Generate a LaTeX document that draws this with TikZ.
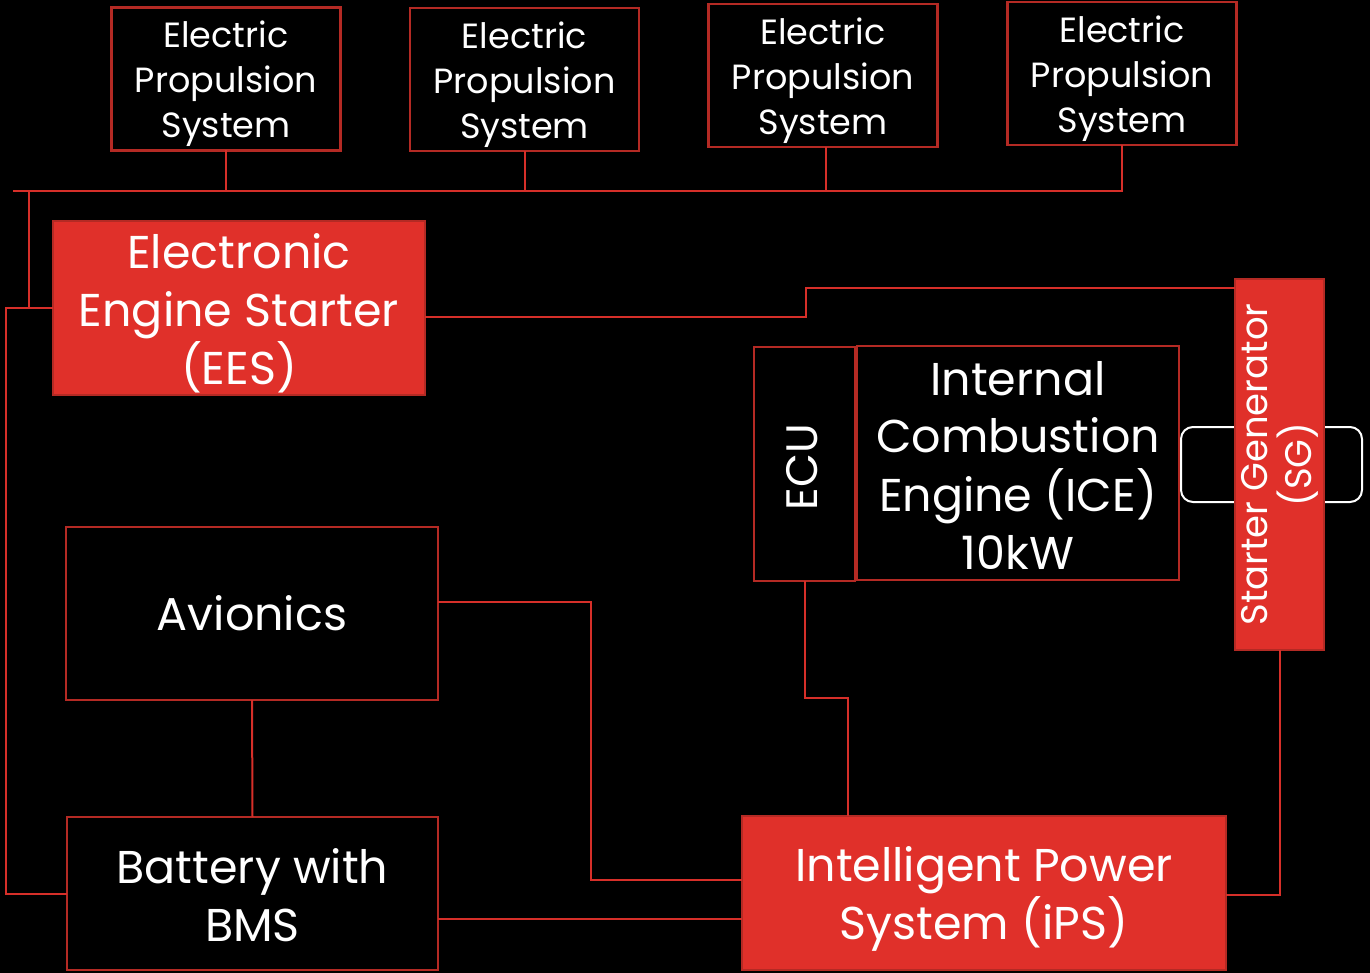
\documentclass[tikz,border=0pt]{standalone}
\usepackage{fontspec}
\setmainfont{Poppins}
\definecolor{boxred}{HTML}{E0302A}
\definecolor{edgered}{HTML}{B42A24}
\definecolor{linered}{HTML}{D62F29}
\begin{document}
\begin{tikzpicture}[x=1pt,y=-1pt,
  every node/.style={inner sep=0pt,outer sep=0pt,text=white,align=center},
  bbox/.style={draw=edgered,line width=2.5pt,fill=black},
  rbox/.style={draw=edgered,line width=2.5pt,fill=boxred},
  conn/.style={draw=linered,line width=2pt},
  eps/.style={bbox,minimum width=229pt,minimum height=143pt},
  epst/.style={font=\fontsize{35}{45}\selectfont},
  big/.style={font=\fontsize{46}{58}\selectfont}]
\fill[black] (0,0) rectangle (1370,973);
\useasboundingbox (0,0) rectangle (1370,973);

% white loop behind SG
\draw[white,line width=2pt,rounded corners=12pt] (1181,427) rectangle (1362,502);

\node[eps] (e1) at (226,79) {};
\node[eps] (e2) at (524.5,79.5) {};
\node[eps] (e3) at (823,75.5) {};
\node[eps] (e4) at (1122,73.5) {};
\node[epst] (e1t) at ([yshift=-5pt]e1.center) {Electric\\Propulsion\\System};
\node[epst] (e2t) at ([yshift=-5pt]e2.center) {Electric\\Propulsion\\System};
\node[epst] (e3t) at ([yshift=-5pt]e3.center) {Electric\\Propulsion\\System};
\node[epst] (e4t) at ([yshift=-5pt]e4.center) {Electric\\Propulsion\\System};

\node[rbox,minimum width=372pt,minimum height=174pt] (ees) at (239,308) {};
\node[big] (eest) at ([yshift=-5pt]ees.center) {Electronic\\Engine Starter\\(EES)};
\node[rbox,minimum width=89pt,minimum height=371pt] (sg) at (1279.5,464.5) {};
\node[rotate=90,font=\fontsize{37}{44}\selectfont] (sgt) at (sg.center) {Starter Generator\\(SG)};

\node[bbox,minimum width=101pt,minimum height=234pt] (ecu) at (804.5,464) {};
\node[rotate=90,font=\fontsize{44}{50}\selectfont] (ecut) at ([xshift=-2pt,yshift=-3pt]ecu.center) {ECU};
\node[bbox,minimum width=322pt,minimum height=234pt] (ice) at (1018,463) {};
\node[big] (icet) at ([yshift=-2pt]ice.center) {Internal\\Combustion\\Engine (ICE)\\10kW};

\node[bbox,big,minimum width=372pt,minimum height=173pt] (av) at (252,613.5) {Avionics};
\node[bbox,minimum width=371pt,minimum height=153pt] (bat) at (252.5,893.5) {};
\node[big] (batt) at ([yshift=-2pt]bat.center) {Battery with\\BMS};
\node[rbox,minimum width=484pt,minimum height=154pt] (ips) at (984,893) {};
\node[big] (ipst) at ([yshift=-6pt]ips.center) {Intelligent Power\\System (iPS)};

% top bus
\coordinate (busL) at (13,191);
\coordinate (lj) at (29,191);
\coordinate (lft) at (6,308);
\draw[conn] (busL) -| (e4.south);
\draw[conn] (e1.south) -- (e1.south |- busL);
\draw[conn] (e2.south) -- (e2.south |- busL);
\draw[conn] ([xshift=3pt]e3.south) -- ([xshift=3pt]e3.south |- busL);
\draw[conn] (lj) -- (lj |- ees.west);
\draw[conn] (ees.west) -- (lft) |- (bat.west);

% EES to SG
\coordinate (j1) at (806,288);
\draw[conn] ([yshift=-9pt]ees.east) -| (j1) -- (j1 -| sg.west);

% ECU to iPS
\coordinate (j2) at (848,698);
\draw[conn] (ecu.south) |- (j2) -- (j2 |- ips.north);

% Avionics to iPS
\coordinate (j3) at (591,880);
\draw[conn] ([yshift=12pt]av.east) -| (j3) -- (j3 -| ips.west);

% Avionics to Battery
\draw[conn] (av.south) -- (bat.north);

% Battery to iPS
\draw[conn] ([yshift=-25.5pt]bat.east) -- ([yshift=-25.5pt]bat.east -| ips.west);

% iPS to SG
\draw[conn] ([yshift=-2pt]ips.east) -| (sg.south);
\end{tikzpicture}
\end{document}
